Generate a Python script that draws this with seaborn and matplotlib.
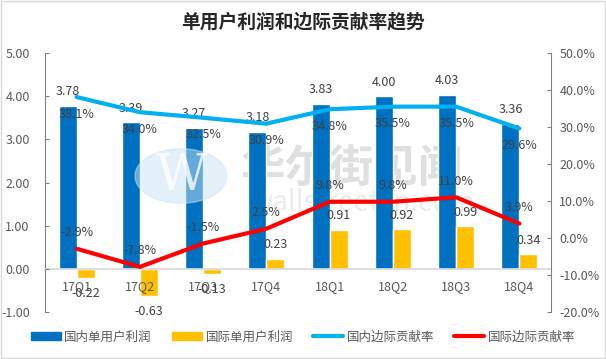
import matplotlib
matplotlib.use("Agg")
import matplotlib.pyplot as plt
import seaborn as sns
import pandas as pd
import numpy as np
from matplotlib.patches import Patch, Rectangle, Circle
from matplotlib.lines import Line2D
from matplotlib.ticker import FuncFormatter, MultipleLocator

categories = ["17Q1", "17Q2", "17Q3", "17Q4", "18Q1", "18Q2", "18Q3", "18Q4"]
domestic_profit = [3.78, 3.39, 3.27, 3.18, 3.83, 4.00, 4.03, 3.36]
intl_profit = [-0.22, -0.63, -0.13, 0.23, 0.91, 0.92, 0.99, 0.34]
domestic_rate = [38.1, 34.0, 32.5, 30.9, 34.8, 35.5, 35.5, 29.6]
intl_rate = [-2.9, -7.8, -1.5, 2.5, 9.8, 9.8, 11.0, 3.9]
series_names = ["国内单用户利润", "国际单用户利润", "国内边际贡献率", "国际边际贡献率"]
title = "单用户利润和边际贡献率趋势"

sns.set_theme(style="white")
plt.rcParams['font.family'] = ['Noto Sans CJK SC', 'DejaVu Sans']

c_blue = "#0070C0"
c_orange = "#FFC000"
c_cyan = "#00B0F0"
c_red = "#FF0000"
txt = "#595959"

fig = plt.figure(figsize=(6.06, 3.59), dpi=100)
ax = fig.add_axes([45/606, 1-312/359, (551-45)/606, (312-53)/359])

bars = pd.DataFrame({
    "cat": categories * 2,
    "val": domestic_profit + intl_profit,
    "series": [series_names[0]] * len(categories) + [series_names[1]] * len(categories),
})
sns.barplot(data=bars, x="cat", y="val", hue="series", order=categories,
            hue_order=series_names[:2], palette=[c_blue, c_orange],
            width=0.57, gap=0, ax=ax, legend=False, saturation=1)
xlim = ax.get_xlim()
ax.set_axisbelow(False)

# watermark
circ = Circle((181/606, 1-176/359), 46/606, transform=fig.transFigure, color="#C9E2F7",
              alpha=0.5, zorder=0)
fig.patches.append(circ)
fig.text(181/606, 1-176/359, "W", fontsize=36, color="white", ha="center", va="center",
         family="DejaVu Serif", alpha=0.8)
ax.text(0.607, 0.548, "华尔街见闻", transform=ax.transAxes, fontsize=32, color="#8C8C8C",
        alpha=0.28, ha="center", va="center", fontweight="bold", zorder=0.5)
ax.text(0.627, 0.42, "wallstreetcn.com", transform=ax.transAxes, fontsize=20, color="#BDBDBD",
        alpha=0.3, ha="center", va="center", zorder=0.5)

ax.set_ylim(-1, 5)
ax.yaxis.set_major_locator(MultipleLocator(1))
ax.yaxis.set_major_formatter(FuncFormatter(lambda v, p: f"{v:.2f}"))
ax.set_xlabel("")
ax.set_ylabel("")
for s in ["top", "right"]:
    ax.spines[s].set_visible(False)
ax.spines["bottom"].set_position(("data", 0))
ax.spines["bottom"].set_color("#D9D9D9")
ax.spines["left"].set_color("#808080")
ax.spines["left"].set_linewidth(0.8)
ax.tick_params(axis="y", left=True, length=3, width=0.8, color="#808080",
               labelsize=9, labelcolor=txt, pad=11, direction="in")
ax.tick_params(axis="x", bottom=False, length=0, labelsize=9, labelcolor=txt, pad=8)

# bar labels
for cont, vals in zip(ax.containers, [domestic_profit, intl_profit]):
    for rect, v in zip(cont, vals):
        cx = rect.get_x() + rect.get_width() / 2
        off = 14 if v >= 0 else -15
        ax.annotate(f"{v:.2f}", (cx, v), xytext=(0, off), textcoords="offset pixels",
                    ha="center", va="center", fontsize=9, color="#404040", zorder=5)

# right axis lines
ax2 = ax.twinx()
lines = pd.DataFrame({"pos": np.arange(len(categories)), "dom": domestic_rate, "intl": intl_rate})
sns.lineplot(data=lines, x="pos", y="dom", color=c_cyan, linewidth=3, ax=ax2)
sns.lineplot(data=lines, x="pos", y="intl", color=c_red, linewidth=3, ax=ax2)
ax2.set_ylim(-20, 50)
ax2.yaxis.set_major_locator(MultipleLocator(10))
ax2.yaxis.set_major_formatter(FuncFormatter(lambda v, p: f"{v:.1f}%"))
ax2.set_xlabel("")
ax2.set_ylabel("")
for s in ["top", "left", "bottom"]:
    ax2.spines[s].set_visible(False)
ax2.spines["right"].set_color("#808080")
ax2.spines["right"].set_linewidth(0.8)
ax2.tick_params(axis="y", right=True, length=3, width=0.8, color="#808080",
                labelsize=9, labelcolor=txt, pad=6, direction="in")
ax.set_xlim(xlim)
ax2.set_xlim(xlim)

for i, v in enumerate(domestic_rate):
    ax2.annotate(f"{v:.1f}%", (i, v), xytext=(0, -17), textcoords="offset pixels",
                 ha="center", va="center", fontsize=9, color="#404040", zorder=5)
for i, v in enumerate(intl_rate):
    ax2.annotate(f"{v:.1f}%", (i, v), xytext=(0, 16), textcoords="offset pixels",
                 ha="center", va="center", fontsize=9, color="#404040", zorder=5)

fig.text(0.5, 1-22/359, title, ha="center", va="center", fontsize=13.5,
         fontweight="bold", color="#262626")

handles = [Patch(color=c_blue), Patch(color=c_orange),
           Line2D([], [], color=c_cyan, lw=3), Line2D([], [], color=c_red, lw=3)]
fig.legend(handles, series_names, loc="center", bbox_to_anchor=(0.5, 1-337/359), ncol=4,
           frameon=False, fontsize=9, labelcolor=txt, handlelength=2.4, handleheight=0.6,
           handletextpad=0.3, columnspacing=1.6)

fig.patches.append(Rectangle((0.001, 0.002), 0.997, 0.996, transform=fig.transFigure,
                             fill=False, edgecolor="#D9D9D9", lw=1))

fig.savefig("out.png", dpi=100)
